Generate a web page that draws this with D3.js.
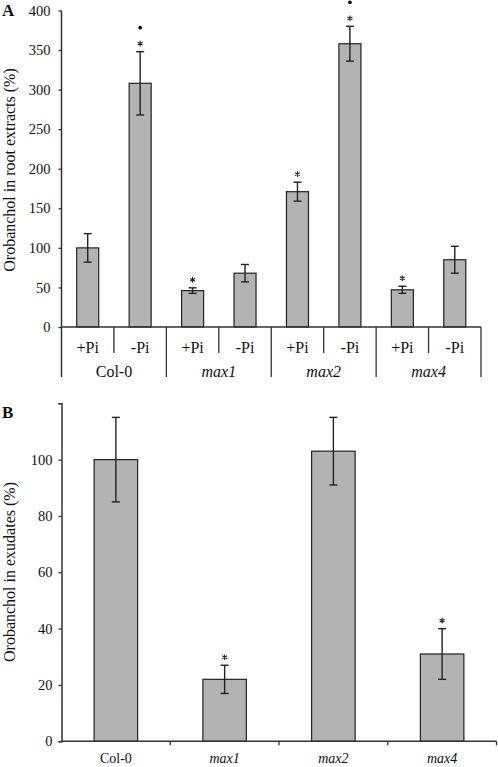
<!DOCTYPE html>
<html><head><meta charset="utf-8">
<script src="https://cdn.jsdelivr.net/npm/d3@7"></script>
<style>
body{margin:0;background:#fff;}
text{font-family:"Liberation Serif","Times New Roman",serif;fill:#111;}
</style></head>
<body><svg id="c" width="498" height="767"></svg>
<script>
// Panel A data
const groupsA = ["Col-0", "max1", "max2", "max4"];
const treatmentsA = ["+Pi", "-Pi"];
const valuesA = [100, 308, 46, 68, 171, 358, 47, 85];
const errorsA = [18, 40, 3.5, 11, 12, 22, 4.5, 17];
const starsA = [false, true, true, false, true, true, true, false];
const dotsA = [false, true, false, false, false, true, false, false];
const ticksA = [0, 50, 100, 150, 200, 250, 300, 350, 400];
// Panel B data
const categoriesB = ["Col-0", "max1", "max2", "max4"];
const valuesB = [100, 22, 103, 31];
const errorsB = [15, 5, 12, 9];
const starsB = [false, true, false, true];
const ticksB = [0, 20, 40, 60, 80, 100, 120];
const labelledTicksB = [0, 20, 40, 60, 80, 100];

const svg = d3.select("#c");
const fill = "#b3b3b3", dark = "#222", axisCol = "#333";
const isItalic = s => s.startsWith("max");
const star = d3.symbol().type(d3.symbolAsterisk).size(22);

// ---------- Panel A ----------
const A = {left: 61.5, right: 481, top: 10.5, bottom: 327};
const barsA = [];
groupsA.forEach((g, gi) => treatmentsA.forEach((t, ti) => {
  const i = gi * treatmentsA.length + ti;
  barsA.push({id: g + t, g, t, v: valuesA[i], e: errorsA[i], star: starsA[i], dot: dotsA[i]});
}));
const xA = d3.scaleBand().domain(barsA.map(d => d.id)).range([A.left, A.right]).paddingInner(0.58).paddingOuter(0.29);
const yA = d3.scaleLinear().domain([0, 400]).range([A.bottom, A.top]);
const gA = svg.append("g");

gA.append("g").attr("transform", `translate(${A.left},0)`)
  .call(d3.axisLeft(yA).tickValues(ticksA).tickSize(3).tickPadding(8).tickFormat(d3.format("d")))
  .call(g => g.select(".domain").remove())
  .call(g => g.selectAll("line").attr("stroke", axisCol).attr("stroke-width", 1.3))
  .call(g => g.selectAll("text").attr("font-size", 14.5).attr("font-family", "Liberation Serif").attr("fill", "#111"));
gA.append("line").attr("x1", A.left).attr("x2", A.left).attr("y1", A.top).attr("y2", 377)
  .attr("stroke", axisCol).attr("stroke-width", 1.5);

gA.selectAll("rect.bar").data(barsA).join("rect").attr("class", "bar")
  .attr("x", d => xA(d.id)).attr("width", xA.bandwidth())
  .attr("y", d => yA(d.v)).attr("height", d => yA(0) - yA(d.v))
  .attr("fill", fill).attr("stroke", dark).attr("stroke-width", 1.2);

gA.append("line").attr("x1", A.left).attr("x2", A.right).attr("y1", A.bottom).attr("y2", A.bottom)
  .attr("stroke", axisCol).attr("stroke-width", 1.5);

const cx = (x, d) => x(d) + x.bandwidth() / 2;
function errBars(g, data, x, y, key) {
  const eg = g.selectAll("g.err").data(data).join("g").attr("class", "err");
  eg.append("line").attr("x1", d => cx(x, key(d))).attr("x2", d => cx(x, key(d)))
    .attr("y1", d => y(d.v + d.e)).attr("y2", d => y(d.v - d.e));
  eg.append("line").attr("x1", d => cx(x, key(d)) - 4).attr("x2", d => cx(x, key(d)) + 4)
    .attr("y1", d => y(d.v + d.e)).attr("y2", d => y(d.v + d.e));
  eg.append("line").attr("x1", d => cx(x, key(d)) - 4).attr("x2", d => cx(x, key(d)) + 4)
    .attr("y1", d => y(d.v - d.e)).attr("y2", d => y(d.v - d.e));
  eg.selectAll("line").attr("stroke", dark).attr("stroke-width", 1.4);
}
function stars(g, data, x, y, key) {
  g.selectAll("path.star").data(data).join("path").attr("class", "star")
    .attr("d", star)
    .attr("transform", d => `translate(${cx(x, key(d))},${y(d.v + d.e) - 8})`)
    .attr("fill", "none").attr("stroke", "#222").attr("stroke-width", 1.1);
}
errBars(gA, barsA, xA, yA, d => d.id);
stars(gA, barsA.filter(d => d.star), xA, yA, d => d.id);
gA.selectAll("circle.dot").data(barsA.filter(d => d.dot)).join("circle").attr("class", "dot")
  .attr("cx", d => cx(xA, d.id)).attr("cy", d => yA(d.v + d.e) - 24).attr("r", 1.9).attr("fill", "#111");

barsA.forEach((d, i) => {
  if (i === 0) return;
  const xs = xA(d.id) - xA.step() * xA.paddingInner() / 2;
  const long = i % treatmentsA.length === 0;
  gA.append("line").attr("x1", xs).attr("x2", xs).attr("y1", A.bottom).attr("y2", long ? 377 : 353)
    .attr("stroke", axisCol).attr("stroke-width", 1.3);
});
gA.append("line").attr("x1", A.right).attr("x2", A.right).attr("y1", A.bottom).attr("y2", 377)
  .attr("stroke", axisCol).attr("stroke-width", 1.3);
gA.selectAll("text.treat").data(barsA).join("text").attr("class", "treat")
  .attr("x", d => cx(xA, d.id)).attr("y", 353).attr("text-anchor", "middle").attr("font-size", 16)
  .text(d => d.t);
groupsA.forEach((g, gi) => {
  const x0 = xA(barsA[gi * 2].id), x1 = xA(barsA[gi * 2 + 1].id) + xA.bandwidth();
  gA.append("text").attr("x", (x0 + x1) / 2).attr("y", 377).attr("text-anchor", "middle")
    .attr("font-size", 16).attr("font-style", isItalic(g) ? "italic" : "normal").text(g);
});
gA.append("text").attr("transform", "translate(15,170) rotate(-90)").attr("text-anchor", "middle")
  .attr("font-size", 16).text("Orobanchol in root extracts (%)");
gA.append("text").attr("x", 2).attr("y", 16).attr("font-size", 17).attr("font-weight", "bold").text("A");

// ---------- Panel B ----------
const B = {left: 61.5, right: 496.5, top: 403.3, bottom: 741.3};
const dataB = categoriesB.map((c, i) => ({c, v: valuesB[i], e: errorsB[i], star: starsB[i]}));
const xB = d3.scaleBand().domain(categoriesB).range([B.left, B.right]).paddingInner(0.6).paddingOuter(0.3);
const yB = d3.scaleLinear().domain([0, 120]).range([B.bottom, B.top]);
const gB = svg.append("g");
gB.append("g").attr("transform", `translate(${B.left},0)`)
  .call(d3.axisLeft(yB).tickValues(ticksB).tickSize(3).tickPadding(6)
    .tickFormat(d => labelledTicksB.includes(d) ? d3.format("d")(d) : ""))
  .call(g => g.select(".domain").attr("stroke", axisCol).attr("stroke-width", 1.5))
  .call(g => g.selectAll("line").attr("stroke", axisCol).attr("stroke-width", 1.3))
  .call(g => g.selectAll("text").attr("font-size", 14.5).attr("font-family", "Liberation Serif").attr("fill", "#111"));

gB.selectAll("rect.bar").data(dataB).join("rect").attr("class", "bar")
  .attr("x", d => xB(d.c)).attr("width", xB.bandwidth())
  .attr("y", d => yB(d.v)).attr("height", d => yB(0) - yB(d.v))
  .attr("fill", fill).attr("stroke", dark).attr("stroke-width", 1.2);

gB.append("line").attr("x1", B.left).attr("x2", B.right).attr("y1", B.bottom).attr("y2", B.bottom)
  .attr("stroke", axisCol).attr("stroke-width", 1.5);
categoriesB.forEach((c) => {
  const xs = xB(c) + xB.bandwidth() + xB.step() * xB.paddingInner() / 2;
  gB.append("line").attr("x1", xs).attr("x2", xs).attr("y1", B.bottom).attr("y2", B.bottom + 4)
    .attr("stroke", axisCol).attr("stroke-width", 1.3);
});
errBars(gB, dataB, xB, yB, d => d.c);
stars(gB, dataB.filter(d => d.star), xB, yB, d => d.c);
gB.selectAll("text.cat").data(dataB).join("text").attr("class", "cat")
  .attr("x", d => cx(xB, d.c)).attr("y", 763).attr("text-anchor", "middle").attr("font-size", 14)
  .attr("font-style", d => isItalic(d.c) ? "italic" : "normal").text(d => d.c);
gB.append("text").attr("transform", "translate(15,572) rotate(-90)").attr("text-anchor", "middle")
  .attr("font-size", 16).text("Orobanchol in exudates (%)");
gB.append("text").attr("x", 2).attr("y", 418).attr("font-size", 17).attr("font-weight", "bold").text("B");
</script></body></html>
